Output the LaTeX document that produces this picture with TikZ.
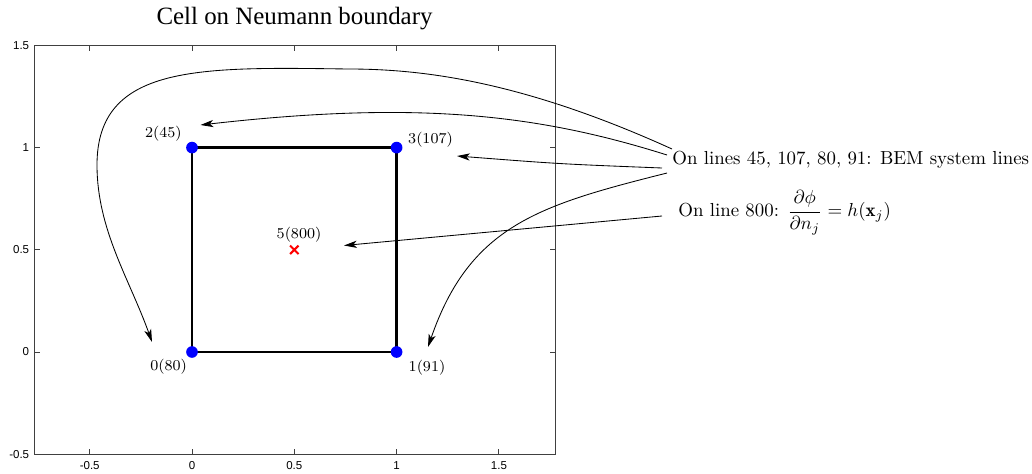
\documentclass[tikz,border=0pt]{standalone}
\usepackage{fontspec}
\usetikzlibrary{arrows.meta,shapes.misc}
\newfontfamily\titlefont{Liberation Serif}
\newfontfamily\tickfont{Liberation Sans}
\begin{document}
\begin{tikzpicture}[x=0.53pt,y=-0.53pt,
  axisline/.style={draw=black!75, line width=0.5pt},
  ticklab/.style={font=\tickfont\fontsize{6.1}{7}\selectfont, inner sep=0pt},
  ptlab/.style={font=\fontsize{8}{9.6}\selectfont, inner sep=0pt},
  note/.style={font=\fontsize{10}{12}\selectfont, inner sep=0pt, anchor=base west},
  callout/.style={draw, line width=0.45pt, -{Stealth[length=6.8pt,width=3.8pt,inset=1.8pt]}},
  vertex/.style={circle, fill=blue, minimum size=6.2pt, inner sep=0pt},
  edge/.style={draw, line width=1.35pt},
]
\useasboundingbox (0,0) rectangle (1032,474);
\node[font=\titlefont\fontsize{13.2}{15}\selectfont, anchor=base, inner sep=0pt] (title) at (294.5,25) {Cell on Neumann boundary};
% axes box
\draw[axisline] (34,45.6) rectangle (555.7,454.4);
\foreach \v/\px [count=\i] in {-0.5/89.7,0/192,0.5/294.3,1/396.6,1.5/498.9} {
  \draw[axisline] (\px,454.4) -- ++(0,-5.5);
  \draw[axisline] (\px,45.6) -- ++(0,5.5);
  \node[ticklab] (xt\i) at (\px,466) {\v};
}
\foreach \v/\py [count=\i] in {-0.5/454.4,0/352,0.5/249.8,1/147.6,1.5/45.6} {
  \draw[axisline] (34,\py) -- ++(5.5,0);
  \draw[axisline] (555.7,\py) -- ++(-5.5,0);
  \node[ticklab, anchor=east] (yt\i) at (29.5,\py) {\v};
}
% cell
\coordinate (p0) at (192,352);
\coordinate (p1) at (396.6,352);
\coordinate (p2) at (192,147.6);
\coordinate (p3) at (396.6,147.6);
\draw[edge] (p0) -- (p1) -- (p3) -- (p2) -- cycle;
\node[vertex] (v0) at (p0) {};
\node[vertex] (v1) at (p1) {};
\node[vertex] (v2) at (p2) {};
\node[vertex] (v3) at (p3) {};
\node[cross out, draw=red, line width=1.1pt, minimum size=3.4pt, inner sep=0pt] (v5) at (294.3,249.8) {};
% point labels
\node[ptlab] (l2) at (163.4,133.7) {2(45)};
\node[ptlab] (l3) at (430.5,140) {3(107)};
\node[ptlab] (l5) at (299,235) {5(800)};
\node[ptlab] (l0) at (168.7,366.7) {0(80)};
\node[ptlab] (l1) at (427,368) {1(91)};
% notes
\node[note] (t1) at (672,165) {On lines 45, 107, 80, 91: BEM system lines};
\node[note] (t2) at (678,216.7) {On line 800: $\displaystyle\frac{\partial \phi}{\partial n_j} = h(\mathbf{x}_j)$};
% callout ends
\coordinate (s1) at (672,149);
\coordinate (s2) at (667,155);
\coordinate (s3) at (662,168);
\coordinate (s4) at (667,173);
\coordinate (s5) at (662,216);
\coordinate (e0) at (152,342);
\coordinate (e2) at (200.5,125);
\coordinate (e3) at (457,156);
\coordinate (e1) at (428,347);
\coordinate (e5) at (344,245.5);
\draw[callout] (s1) .. controls (520,80) and (420,69) .. (348,69)
  .. controls (200,67) and (97,64) .. (97,165)
  .. controls (97,230) and (130,280) .. (e0);
\draw[callout] (s2) .. controls (540,115) and (420,100) .. (e2);
\draw[callout] (s3) .. controls (560,164) .. (e3);
\draw[callout] (s4) .. controls (540,205) and (470,225) .. (e1);
\draw[callout] (s5) -- (e5);
\end{tikzpicture}
\end{document}
